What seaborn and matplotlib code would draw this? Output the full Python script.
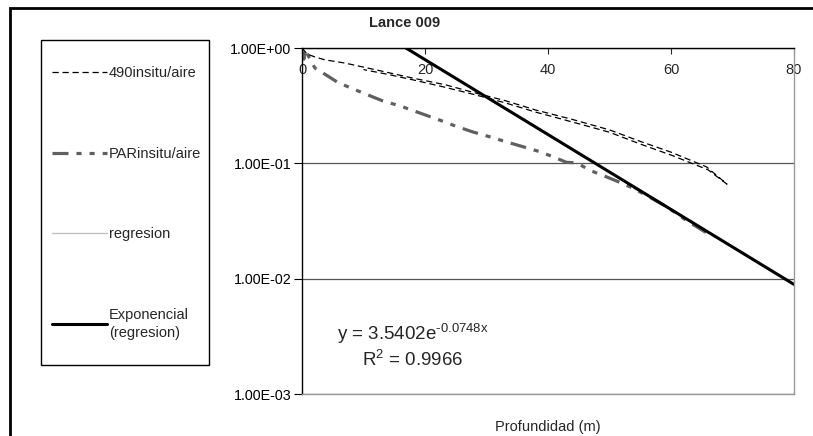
import numpy as np
import pandas as pd
import matplotlib
matplotlib.use("Agg")
import matplotlib.pyplot as plt
from matplotlib.patches import Rectangle
from matplotlib.ticker import FuncFormatter, NullLocator
import seaborn as sns

# 490 nm in situ / air, down and up cast (one series)
depth_490 = [0, 0.5, 1, 2, 3.7, 7, 12.4, 17.9, 23.3, 28, 33, 38, 44, 50, 55, 60, 65.8, 69.1,
             66, 60, 55, 50, 44, 38, 33, 28, 23, 18, 14, 10]
val_490 = [1.0, 0.93, 0.88, 0.84, 0.79, 0.74, 0.64, 0.55, 0.48, 0.41, 0.35, 0.29, 0.24, 0.195,
           0.155, 0.125, 0.093, 0.066,
           0.088, 0.118, 0.147, 0.186, 0.228, 0.278, 0.335, 0.395, 0.46, 0.53, 0.59, 0.65]

# PAR in situ / air
depth_par = [0, 0.3, 0.6, 1.0, 1.4, 2.1, 4, 5.9, 9.8, 13, 16.3, 19, 22.4, 25, 27.8, 30.5, 33.3,
             36, 38.7, 41, 43, 44.7, 46.8, 49.6, 51.5, 53.8, 56.5, 59.3, 62.5, 66.3]
val_par = [0.95, 0.80, 0.98, 0.86, 0.78, 0.67, 0.58, 0.50, 0.41, 0.35, 0.31, 0.275, 0.237, 0.21,
           0.187, 0.17, 0.153, 0.139, 0.126, 0.113, 0.102, 0.101, 0.087, 0.076, 0.069, 0.061,
           0.051, 0.042, 0.032, 0.024]

# data used for the regression
depth_reg = [54, 58, 62, 66, 70, 74, 78, 80]
val_reg = [0.060, 0.047, 0.034, 0.025, 0.0190, 0.0138, 0.0105, 0.0089]

# exponential trendline  y = A * exp(B * x)
fit_A = 3.5402
fit_B = -0.0748
fit_R2 = 0.9966
depth_fit = np.array([0, 80])

x_ticks = [0, 20, 40, 60, 80]
y_ticks = [1e-3, 1e-2, 1e-1, 1e0]

sns.set_style("white")
plt.rcParams["font.family"] = ["Liberation Sans", "DejaVu Sans"]
plt.rcParams["mathtext.fontset"] = "custom"
plt.rcParams["mathtext.rm"] = "Liberation Sans"
plt.rcParams["mathtext.default"] = "regular"

W, H = 813, 436
fig = plt.figure(figsize=(W / 100, H / 100), dpi=100)
fig.patch.set_facecolor("white")
ax = fig.add_axes([302 / W, 1 - 394 / H, (794 - 302) / W, (394 - 48) / H])

sns.lineplot(x=depth_reg, y=val_reg, ax=ax, sort=False, estimator=None,
             color="#c0c0c0", lw=1)
sns.lineplot(x=depth_par, y=val_par, ax=ax, sort=False, estimator=None,
             color="#606060", lw=2.3, linestyle=(0, (5, 2.5, 1.6, 2.5, 1.6, 2.5)))
sns.lineplot(x=depth_490, y=val_490, ax=ax, sort=False, estimator=None,
             color="black", lw=0.9, linestyle=(0, (5, 3)))
sns.lineplot(x=depth_fit, y=fit_A * np.exp(fit_B * depth_fit), ax=ax, sort=False,
             estimator=None, color="black", lw=2.2)
l_reg, l_par, l_490, l_fit = ax.lines[:4]

ax.set_yscale("log")
ax.set_ylim(1e-3, 1)
ax.set_xlim(0, 80)
ax.set_yticks(y_ticks)
ax.yaxis.set_minor_locator(NullLocator())
ax.yaxis.set_major_formatter(FuncFormatter(lambda v, p: f"{v:.2E}"))
ax.set_xticks(x_ticks)
ax.set_xticklabels([str(t) for t in x_ticks])

ax.tick_params(axis="y", left=True, direction="out", length=6, width=0.8,
               pad=1.5, labelsize=10.3, colors="black")
ax.tick_params(axis="x", bottom=False, labelbottom=False, top=True, labeltop=True,
               direction="in", length=4, width=0.8, pad=-21, labelsize=10.5)

ax.grid(axis="y", which="major", color="#555555", lw=0.9)
ax.grid(axis="x", visible=False)
for side in ["left", "top"]:
    ax.spines[side].set_color("black")
    ax.spines[side].set_linewidth(1)
for side in ["right", "bottom"]:
    ax.spines[side].set_color("#999999")
    ax.spines[side].set_linewidth(1)

ax.set_xlabel("Profundidad (m)", fontsize=10.5, labelpad=19)
ax.set_ylabel("")

fig.text(405 / W, 1 - 23 / H, "Lance 009", ha="center", va="center",
         fontsize=10.5, fontweight="bold")

fig.text(413 / W, 1 - 334 / H, f"y = {fit_A:.4f}e$^{{\\text{{{fit_B:.4f}x}}}}$",
         ha="center", va="center", fontsize=13.5)
fig.text(413 / W, 1 - 360 / H, f"R$^2$ = {fit_R2:.4f}",
         ha="center", va="center", fontsize=13.5)

# legend box and entries
fig.add_artist(Rectangle((41 / W, 1 - 365 / H), (209 - 41) / W, (365 - 40) / H,
                         transform=fig.transFigure, fill=False, ec="black", lw=1))
leg = fig.legend([l_490, l_par, l_reg, l_fit],
                 ["490insitu/aire", "PARinsitu/aire", "regresion", "Exponencial\n(regresion)"],
                 loc="upper left", bbox_to_anchor=(52 / W, 1 - 66 / H), frameon=False,
                 borderpad=0, borderaxespad=0, handlelength=3.8, handletextpad=0.1,
                 labelspacing=4.57, fontsize=10.5)
for t in leg.get_texts():
    t.set_linespacing(1.35)

# outer chart border
fig.add_artist(Rectangle((10 / W, -0.1), 1.2, 1.1 - 8 / H,
                         transform=fig.transFigure, fill=False, ec="black", lw=2))

fig.savefig("out.png", dpi=100)
